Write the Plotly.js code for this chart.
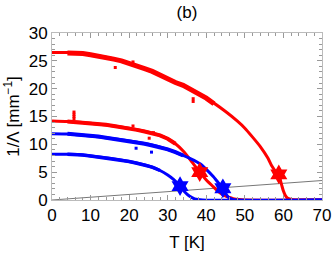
<!DOCTYPE html>
<html>
<head>
<meta charset="utf-8">
<script src="https://cdn.plot.ly/plotly-3.0.1.min.js"></script>
<style>html,body{margin:0;padding:0;background:#fff}#chart{width:332px;height:253px}</style>
</head>
<body>
<div id="chart"></div>
<script>
// Fitted curves
const redTopFitT = [0, 4, 10, 15, 20, 25, 30, 35, 40, 45, 48, 50, 52, 54, 56, 57, 58, 58.8, 59.5, 60, 60.5, 61, 62, 63, 70];
const redTopFitV = [26.5, 26.5, 26.1, 25.5, 24.6, 23.3, 21.8, 20.2, 18.3, 15.9, 14.2, 12.9, 11.3, 9.6, 7.5, 6.1, 5.1, 4.5, 2.8, 1.6, 0.8, 0.35, 0.1, 0, 0];
const redMidFitT = [0, 4, 10, 15, 20, 25, 28, 30, 32, 34, 36, 38.3, 40, 41.8, 43, 44.4, 46, 47, 48.5, 50, 70];
const redMidFitV = [14.2, 14.1, 13.8, 13.4, 12.9, 12.2, 11.6, 11.0, 10.1, 8.8, 7.1, 5.0, 3.6, 2.4, 1.6, 0.9, 0.45, 0.25, 0.08, 0, 0];
const blueUpFitT = [0, 4, 10, 15, 20, 25, 30, 33, 36, 38.4, 40, 41.8, 43, 44.3, 45, 45.7, 46.5, 47.5, 70];
const blueUpFitV = [11.9, 11.85, 11.5, 11.1, 10.6, 10.0, 9.1, 8.3, 7.4, 6.5, 5.5, 4.2, 3.2, 2.1, 1.2, 0.5, 0.2, 0, 0];
const blueLoFitT = [0, 4, 8, 10, 15, 20, 25, 28, 30, 31.5, 33.2, 34.5, 35.6, 37, 39, 70];
const blueLoFitV = [8.2, 8.2, 8.1, 7.9, 7.5, 6.9, 6.1, 5.3, 4.5, 3.7, 2.5, 1.4, 0.7, 0.2, 0, 0];

// Measured data bands
const redTopDataT = [4, 6, 8, 10, 12, 14, 16, 18, 20, 22, 24, 26, 28, 30, 32, 34, 36, 38, 40, 42];
const redTopDataV = [26.4, 26.4, 26.3, 26.1, 25.9, 25.7, 25.3, 25.0, 24.6, 24.1, 23.6, 23.1, 22.4, 21.8, 21.1, 20.6, 19.9, 19.1, 18.3, 17.3];
const redMidDataT = [4, 6, 8, 10, 12, 14, 16, 18, 20, 22, 24, 26, 28, 30, 32];
const redMidDataV = [14.1, 14.0, 13.9, 13.8, 13.6, 13.5, 13.3, 13.1, 12.9, 12.6, 12.3, 12.0, 11.6, 11.0, 10.1];
const blueUpDataT = [4, 6, 8, 10, 12, 14, 16, 18, 20, 22, 24, 26, 28, 30, 32, 34];
const blueUpDataV = [11.9, 11.8, 11.7, 11.5, 11.4, 11.2, 11.0, 10.8, 10.6, 10.4, 10.1, 9.8, 9.5, 9.1, 8.6, 8.0];
const blueLoDataT = [4, 6, 8, 10, 12, 14, 16, 18, 20, 22, 24, 26, 28];
const blueLoDataV = [8.2, 8.2, 8.1, 7.9, 7.7, 7.6, 7.4, 7.1, 6.9, 6.6, 6.3, 5.9, 5.3];

// Scattered outliers
const redOutT = [5.7, 5.7, 5.7, 5.7, 16.4, 21, 36.6, 36.6, 21, 26.3, 25.2];
const redOutV = [14.6, 15.0, 15.4, 15.8, 23.8, 24.8, 17.7, 18.2, 13.3, 12.1, 11.1];
const blueOutT = [21.8, 25.8];
const blueOutV = [9.3, 8.6];

// Stars
const redStarT = [38.3, 58.8];
const redStarV = [5.0, 4.6];
const blueStarT = [33.2, 44.3];
const blueStarV = [2.5, 2.1];

// Gray reference line
const refT = [0, 70];
const refV = [0, 3.5];

const RED = '#ff0000', BLUE = '#0000ff';
const traces = [
  {x: refT, y: refV, mode: 'lines', line: {color: '#777', width: 1}},
  {x: redTopDataT, y: redTopDataV, mode: 'lines', line: {color: RED, width: 5}},
  {x: redMidDataT, y: redMidDataV, mode: 'lines', line: {color: RED, width: 4}},
  {x: redTopFitT, y: redTopFitV, mode: 'lines', line: {color: RED, width: 3, shape: 'spline', smoothing: 0.6}},
  {x: redMidFitT, y: redMidFitV, mode: 'lines', line: {color: RED, width: 3, shape: 'spline', smoothing: 0.6}},
  {x: redOutT, y: redOutV, mode: 'markers', marker: {color: RED, size: 3, symbol: 'square'}},
  {x: blueUpDataT, y: blueUpDataV, mode: 'lines', line: {color: BLUE, width: 4}},
  {x: blueLoDataT, y: blueLoDataV, mode: 'lines', line: {color: BLUE, width: 3.5}},
  {x: blueUpFitT, y: blueUpFitV, mode: 'lines', line: {color: BLUE, width: 3, shape: 'spline', smoothing: 0.6}},
  {x: blueLoFitT, y: blueLoFitV, mode: 'lines', line: {color: BLUE, width: 3, shape: 'spline', smoothing: 0.6}},
  {x: blueOutT, y: blueOutV, mode: 'markers', marker: {color: BLUE, size: 3, symbol: 'square'}},
  {x: redStarT, y: redStarV, mode: 'markers', marker: {color: RED, size: 15, symbol: 'hexagram', line: {width: 0}}},
  {x: blueStarT, y: blueStarV, mode: 'markers', marker: {color: BLUE, size: 15, symbol: 'hexagram', line: {width: 0}}}
];

const axisCommon = {
  showgrid: false, zeroline: false, showline: true, mirror: 'allticks',
  linecolor: '#bbbbbb', linewidth: 1,
  ticks: 'inside', ticklen: 5, tickcolor: '#999999', tickwidth: 1,
  tickfont: {family: 'Liberation Sans, Arial, sans-serif', size: 17, color: '#000'}
};

const layout = {
  width: 332, height: 253,
  margin: {l: 52, r: 10, t: 33, b: 53},
  paper_bgcolor: '#fff', plot_bgcolor: '#fff',
  showlegend: false,
  font: {family: 'Liberation Sans, Arial, sans-serif', size: 17, color: '#000'},
  title: {text: '(b)', x: 0.563, xanchor: 'center', y: 0.952, yanchor: 'middle', yref: 'container',
          font: {size: 17, color: '#000'}},
  xaxis: Object.assign({}, axisCommon, {
    range: [0, 70], tickvals: [0, 10, 20, 30, 40, 50, 60, 70],
    minor: {dtick: 2, ticks: 'inside', ticklen: 3, tickcolor: '#999999'},
    title: {text: 'T [K]', font: {size: 17}, standoff: 11}
  }),
  yaxis: Object.assign({}, axisCommon, {
    range: [0, 30], tickvals: [0, 5, 10, 15, 20, 25, 30],
    minor: {dtick: 1, ticks: 'inside', ticklen: 3, tickcolor: '#999999'},
    title: {text: '1/Λ [mm<sup>−1</sup>]', font: {size: 17}, standoff: 4}
  })
};

Plotly.newPlot('chart', traces, layout, {displayModeBar: false, staticPlot: true});
</script>
</body>
</html>
